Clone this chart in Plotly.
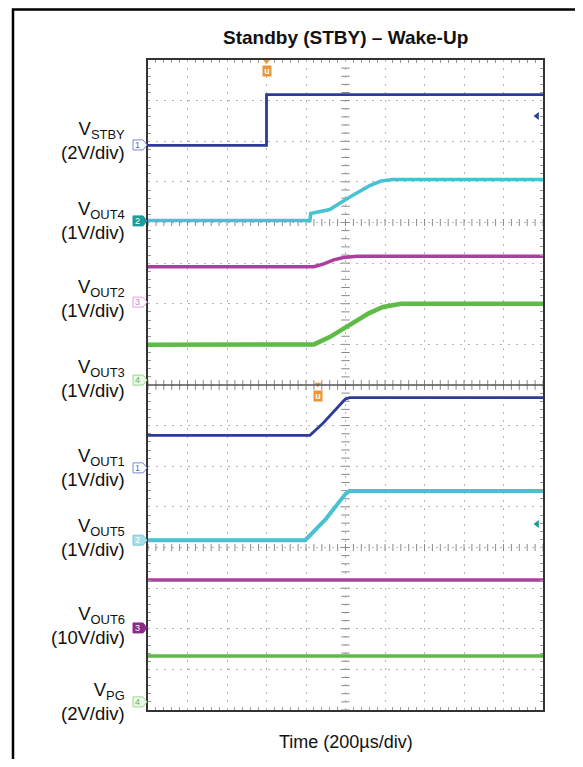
import numpy as np
import plotly.graph_objects as go

# scope traces, time in divisions (200us/div), level in divisions (0 = centre line)
stby_t = [0, 3.0, 3.0, 10]
stby_v = [5.9, 5.9, 7.15, 7.15]

out4_t = [0, 4.1, 4.12, 4.6, 5.1, 5.6, 5.9, 6.2, 10]
out4_v = [4.05, 4.05, 4.22, 4.32, 4.62, 4.9, 5.02, 5.06, 5.06]

out2_t = [0, 4.2, 4.45, 4.7, 4.95, 5.3, 10]
out2_v = [2.91, 2.91, 2.98, 3.08, 3.14, 3.17, 3.17]

out3_t = [0, 3.9, 4.2, 4.6, 5.1, 5.6, 5.95, 6.4, 10]
out3_v = [0.99, 0.98, 1.0, 1.18, 1.48, 1.77, 1.92, 2.0, 2.0]

out1_t = [0, 4.1, 4.43, 4.78, 4.99, 5.1, 10]
out1_v = [-1.24, -1.24, -0.94, -0.57, -0.35, -0.31, -0.31]

out5_t = [0, 3.98, 4.5, 5.0, 5.1, 10]
out5_v = [-3.82, -3.82, -3.3, -2.68, -2.61, -2.61]

out6_t = [0, 10]
out6_v = [-4.8, -4.8]

pg_t = [0, 10]
pg_v = [-6.67, -6.67]

# channel labels and their ground markers
label_name = ["V<sub>STBY</sub>", "V<sub>OUT4</sub>", "V<sub>OUT2</sub>", "V<sub>OUT3</sub>",
              "V<sub>OUT1</sub>", "V<sub>OUT5</sub>", "V<sub>OUT6</sub>", "V<sub>PG</sub>"]
label_scale = ["(2V/div)", "(1V/div)", "(1V/div)", "(1V/div)",
               "(1V/div)", "(1V/div)", "(10V/div)", "(2V/div)"]
label_y = [6.03, 4.04, 2.12, 0.16, -2.03, -3.75, -5.93, -7.78]
marker_num = ["1", "2", "3", "4", "1", "2", "3", "4"]
marker_y = [5.91, 4.04, 2.04, 0.12, -2.04, -3.82, -5.98, -7.8]
marker_fill = ["white", "#1d9c9c", "white", "#eef8e8", "white", "#a8e0ea", "#8c2a88", "#eef8e8"]
marker_line = ["#7f86cc", "#1d9c9c", "#e0a0d8", "#9ad88a", "#8088cc", "#7cc8d8", "#8c2a88", "#9ad88a"]
marker_text = ["#5a62b8", "white", "#d080c8", "#5bb848", "#6068b8", "white", "white", "#5bb848"]

BLUE = "#2f3b98"
CYAN = "#48c2d2"
MAGENTA = "#ab3f9f"
GREEN = "#5dbb46"
ORANGE = "#eb9638"

fig = go.Figure()

# graticule ticks along the centre lines
tx = np.arange(0, 10.01, 0.2)
ty = np.arange(-8, 8.01, 0.2)
for yy, sz in [(4, 5), (-4, 5), (0, 7)]:
    fig.add_trace(go.Scatter(x=tx, y=[yy] * len(tx), mode="markers", hoverinfo="skip",
                             marker=dict(symbol="line-ns", size=sz, line=dict(width=1, color="#8a8a8a"))))
fig.add_trace(go.Scatter(x=[5] * len(ty), y=ty, mode="markers", hoverinfo="skip",
                         marker=dict(symbol="line-ew", size=6, line=dict(width=1, color="#8a8a8a"))))

traces = [(stby_t, stby_v, BLUE, 2.8), (out4_t, out4_v, CYAN, 3.5), (out2_t, out2_v, MAGENTA, 3.5),
          (out3_t, out3_v, GREEN, 4.5), (out1_t, out1_v, BLUE, 2.8), (out5_t, out5_v, CYAN, 4),
          (out6_t, out6_v, MAGENTA, 3.5), (pg_t, pg_v, GREEN, 3.5)]
for t, v, c, w in traces:
    fig.add_trace(go.Scatter(x=t, y=v, mode="lines", line=dict(color=c, width=w), hoverinfo="skip"))

# trigger markers and right-hand level arrows
fig.add_trace(go.Scatter(x=[3.0, 4.3], y=[7.97, 0.02], mode="markers", hoverinfo="skip", cliponaxis=False,
                         marker=dict(symbol="triangle-down", size=6, color=ORANGE)))
fig.add_trace(go.Scatter(x=[9.85], y=[6.62], mode="markers", hoverinfo="skip",
                         marker=dict(symbol="triangle-left", size=7, color=BLUE)))
fig.add_trace(go.Scatter(x=[9.85], y=[-3.42], mode="markers", hoverinfo="skip",
                         marker=dict(symbol="triangle-left", size=7, color="#1a9a8a")))

annotations = []
shapes = []
for name, scale, y in zip(label_name, label_scale, label_y):
    annotations.append(dict(
        text=name + "<br>" + scale,
        x=-0.053, xref="paper", y=y, yref="y", xanchor="right", yanchor="middle",
        align="right", showarrow=False, font=dict(size=18.5, color="#111")))
for n, y, f, lc, tc in zip(marker_num, marker_y, marker_fill, marker_line, marker_text):
    shapes.append(dict(type="path", xref="paper", yref="paper", xsizemode="pixel", ysizemode="pixel",
                       xanchor=0, yanchor=(y + 8) / 16, path="M -15 -5 L -5 -5 L -1 0 L -5 5 L -15 5 Z",
                       fillcolor=f, line=dict(color=lc, width=1)))
    annotations.append(dict(text=n, x=-0.026, xref="paper", y=y, yref="y", showarrow=False,
                            font=dict(size=9, color=tc), xanchor="center", yanchor="middle"))
for x, y in [(3.0, 7.72), (4.3, -0.27)]:
    annotations.append(dict(text="<b>u</b>", x=x, y=y, xref="x", yref="y", showarrow=False,
                            bgcolor=ORANGE, font=dict(size=9, color="white"), width=8, height=10,
                            borderpad=0))

annotations.append(dict(text="<b>Standby (STBY) – Wake-Up</b>", x=0.5, xref="paper",
                        y=(710 - 38) / 650, yref="paper", showarrow=False,
                        font=dict(size=19, color="#111"), yanchor="middle"))
annotations.append(dict(text="Time (200µs/div)", x=0.5, xref="paper",
                        y=(710 - 742) / 650, yref="paper", showarrow=False,
                        font=dict(size=18, color="#111"), yanchor="middle"))

# centre divider of the two screens
shapes.append(dict(type="line", xref="x", yref="y", x0=0, x1=10, y0=0, y1=0,
                   line=dict(color="#555", width=1.5)))
# outer frame of the figure (only left and top edges fall inside the picture)
shapes.append(dict(type="rect", xref="paper", yref="paper", x0=-0.3418, x1=1.5,
                   y0=-0.3, y1=(710 - 9.5) / 650, line=dict(color="black", width=2.5)))

axis_common = dict(showgrid=True, gridcolor="#b5b5b5", griddash="2px,6px", gridwidth=1,
                   zeroline=False, showticklabels=False, showline=True, linecolor="#333",
                   linewidth=2, mirror="ticks", ticks="inside", ticklen=0, dtick=1,
                   minor=dict(dtick=0.2, ticks="inside", ticklen=3, tickcolor="#999", showgrid=False))
# the page puts the figure 8px in from the window corner; keep it small enough to avoid scrollbars
fig.update_layout(
    width=567, height=751,
    margin=dict(l=140, r=32, t=52, b=49),
    plot_bgcolor="white", paper_bgcolor="white",
    showlegend=False,
    font=dict(family="Liberation Sans, Arial, sans-serif"),
    xaxis=dict(range=[0, 10], **axis_common),
    yaxis=dict(range=[-8, 8], **axis_common),
    annotations=annotations, shapes=shapes,
)

fig.write_html("out.html")
